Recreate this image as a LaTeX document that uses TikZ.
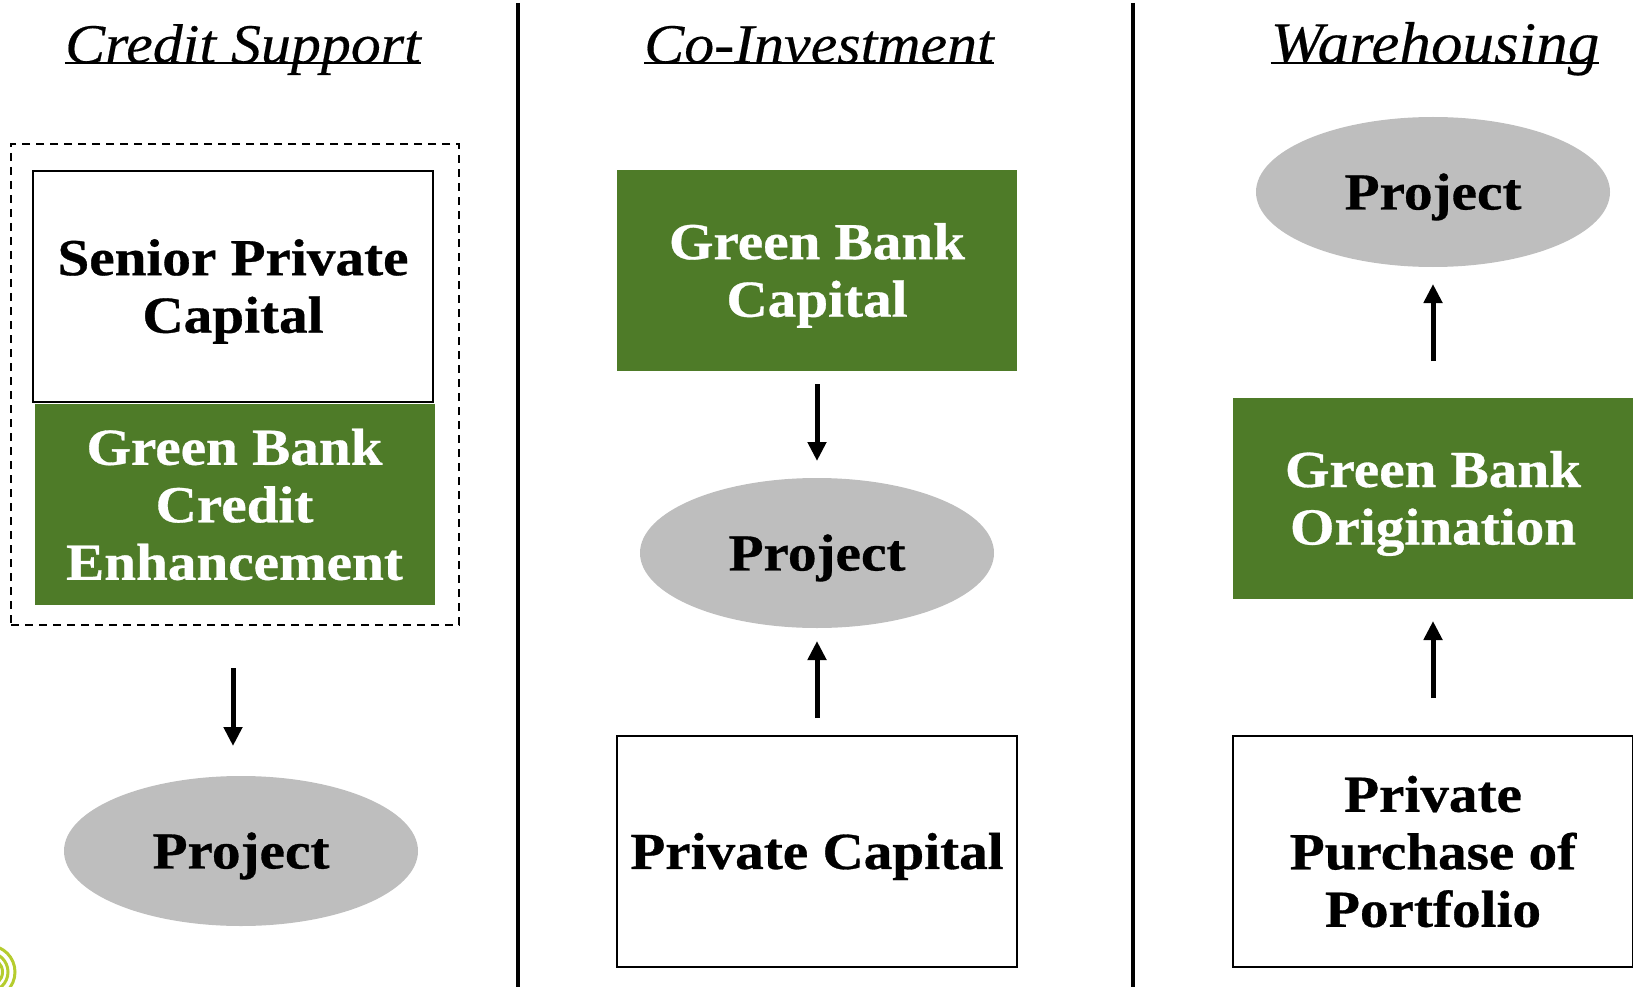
\documentclass[tikz,border=0pt]{standalone}
\usepackage{fontspec}
\setmainfont{Liberation Serif}[
  BoldFeatures={FakeStretch=1.1, FakeBold=0.6},
  ItalicFeatures={FakeStretch=1.07, FakeBold=0.3}]
\usetikzlibrary{arrows.meta, positioning, shapes.geometric}
\definecolor{bankgreen}{HTML}{4E7B28}
\definecolor{projgray}{HTML}{BEBEBE}
\definecolor{logolime}{HTML}{B5CC2E}
\newcommand{\lowline}{\rule{0pt}{46pt}}
\tikzset{
    x=1pt, y=-1pt,
    every node/.style={align=center, font=\fontsize{52}{57.5}\selectfont\bfseries, inner sep=0pt},
    whitebox/.style={draw, line width=2.2pt, minimum width=400pt, minimum height=231pt},
    greenbox/.style={fill=bankgreen, text=white, minimum width=400pt, minimum height=201pt},
    project/.style={ellipse, fill=projgray, minimum width=354pt, minimum height=150pt},
    title/.style={font=\fontsize{56}{60}\selectfont\itshape, anchor=base},
    underrule/.style={line width=2.4pt, yshift=-7pt},
    arrow/.style={-{Triangle[length=19pt, width=18pt]}, line width=5pt},
    divider/.style={line width=4pt},
    dashbox/.style={draw, dash pattern=on 8pt off 6pt, line width=1.5pt, minimum width=448pt, minimum height=481pt}
}
\begin{document}
\begin{tikzpicture}
\useasboundingbox (0,0) rectangle (1633,987);

% Logo
\begin{scope}
\clip (0,940) rectangle (20,987);
\foreach \r in {14,19.5,26.5} \draw[logolime, line width=3pt] (-11.5,972) circle (\r);
\end{scope}

% Dividers
\coordinate (d1t) at (518,3);
\coordinate (d1b) at (518,987);
\coordinate (d2t) at (1133,3);
\coordinate (d2b) at (1133,987);
\draw[divider] (d1t) -- (d1b);
\draw[divider] (d2t) -- (d2b);

% Titles
\node[title] (t1) at (243,63) {Credit Support};
\node[title] (t2) at (819,63) {Co-Investment};
\node[title, font=\fontsize{59}{60}\selectfont\itshape] (t3) at (1435,63) {Warehousing};
\draw[underrule] (t1.base west) -- (t1.base east);
\draw[underrule] (t2.base west) -- (t2.base east);
\draw[underrule] (t3.base west) -- (t3.base east);

% Credit support
\node[dashbox] (D) at (235,384.5) {};
\node[whitebox] (S) at (233,286.5) {\lowline Senior Private\\Capital};
\node[greenbox] (C) at (234.5,504.5) {Green Bank\\Credit\\Enhancement};
\node[project] (P1) at (241,851) {\lowline Project};
\coordinate (a1) at (233,668);
\coordinate (b1) at (233,746);
\draw[arrow] (a1) -- (b1);

% Co-investment
\node[greenbox] (G2) at (817,270.5) {\lowline Green Bank\\Capital};
\node[project] (P2) at (817,553) {\lowline Project};
\node[whitebox] (W2) at (817,851.5) {\lowline Private Capital};
\coordinate (a2) at (817,384);
\coordinate (b2) at (817,461);
\coordinate (a3) at (817,718);
\coordinate (b3) at (817,641);
\draw[arrow] (a2) -- (b2);
\draw[arrow] (a3) -- (b3);

% Warehousing
\node[project] (P3) at (1433,192) {\lowline Project};
\node[greenbox] (G3) at (1433,498.5) {\lowline Green Bank\\Origination};
\node[whitebox] (W3) at (1433,851.5) {Private\\Purchase of\\Portfolio};
\coordinate (a4) at (1433,361);
\coordinate (b4) at (1433,284);
\coordinate (a5) at (1433,698);
\coordinate (b5) at (1433,621);
\draw[arrow] (a4) -- (b4);
\draw[arrow] (a5) -- (b5);

\end{tikzpicture}
\end{document}
